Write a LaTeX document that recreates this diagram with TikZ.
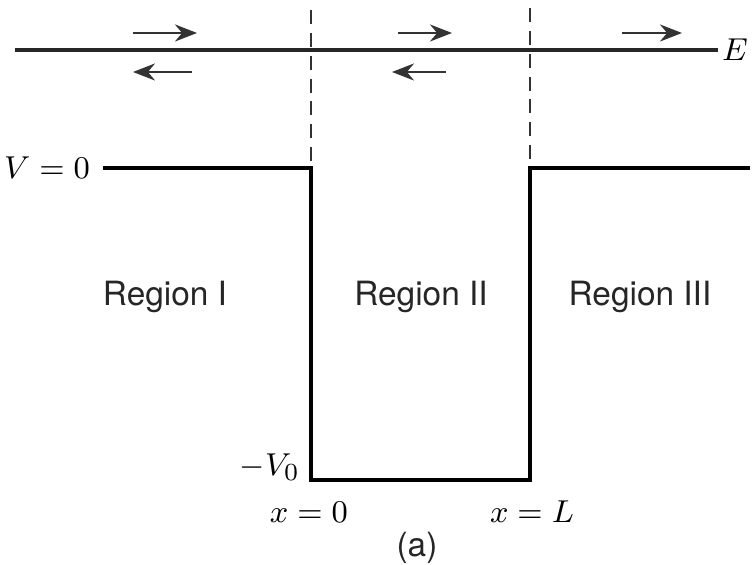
\documentclass[tikz,border=0pt]{standalone}
\usepackage{fontspec}
\setsansfont{TeX Gyre Heros}
\usetikzlibrary{arrows.meta,positioning}
\tikzset{
  wellline/.style={line width=1.1pt, black},
  energyline/.style={line width=0.9pt, black!85},
  boundary/.style={line width=0.8pt, black!80, dash pattern=on 4pt off 2.5pt},
  wave/.style={-{Stealth[length=2.2mm,width=1.7mm]}, line width=0.7pt, black!80},
  region/.style={font=\sffamily\fontsize{9.5}{11}\selectfont, text=black!85},
  mlabel/.style={font=\fontsize{9.5}{11}\selectfont, inner sep=1pt}
}
\begin{document}
\begin{tikzpicture}[x=0.01cm, y=-0.01cm]
  \useasboundingbox (0,0) rectangle (753,565);
  % corners of the well
  \coordinate (vl) at (103,168);
  \coordinate (tl) at (311,168);
  \coordinate (bl) at (311,480);
  \coordinate (br) at (530,480);
  \coordinate (tr) at (530,168);
  \coordinate (vr) at (750,168);
  \draw[wellline] (vl) -- (tl) -- (bl) -- (br) -- (tr) -- (vr);
  % energy level
  \coordinate (el) at (15,50);
  \coordinate (er) at (718,50);
  \draw[energyline] (el) -- (er);
  \node[mlabel, right=1pt of er, inner sep=0pt] (E) {$E$};
  % boundaries of the well
  \coordinate (dl) at (311,10);
  \coordinate (dr) at (530,8);
  \draw[boundary] (dl) -- (tl);
  \draw[boundary] (dr) -- (tr);
  % travelling waves
  \foreach \n/\a/\b in {1/133/197, 2/398/452, 3/622/682}{
    \coordinate (ra\n) at (\a,33);
    \coordinate (rb\n) at (\b,33);
    \draw[wave] (ra\n) -- (rb\n);
  }
  \foreach \n/\a/\b in {1/192/133, 2/446/392}{
    \coordinate (la\n) at (\a,72);
    \coordinate (lb\n) at (\b,72);
    \draw[wave] (la\n) -- (lb\n);
  }
  % labels
  \node[mlabel, left=2.5pt of vl] (v0) {$V=0$};
  \node[mlabel, anchor=base east] (vm) at (304,476) {$-V_0$};
  \node[mlabel] (x0) at (309,512) {$x=0$};
  \node[mlabel] (xL) at (532,512) {$x=L$};
  \node[region] (r1) at (165,297) {Region I};
  \node[region] (r2) at (421,297) {Region II};
  \node[region] (r3) at (640,297) {Region III};
  \node[region] (cap) at (417,548) {(a)};
\end{tikzpicture}
\end{document}
